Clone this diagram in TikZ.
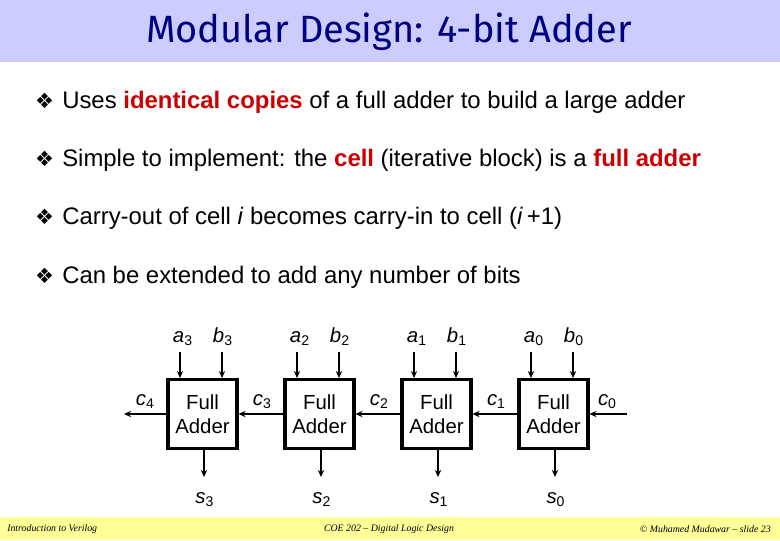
\documentclass[tikz,border=0pt]{standalone}
\usepackage{fontspec}
\setmainfont{Liberation Sans}
\newfontfamily\titlefont{Fira Sans}
\newfontfamily\symfont{DejaVu Sans}
\newfontfamily\footfont{Liberation Serif}
\usetikzlibrary{arrows.meta,positioning}
\definecolor{titleband}{RGB}{204,204,255}
\definecolor{titleblue}{RGB}{0,0,128}
\definecolor{footband}{RGB}{255,255,153}
\definecolor{hired}{RGB}{204,0,0}
\newcommand{\hi}[1]{\textcolor{hired}{\bfseries #1}}
\newcommand{\sig}[2]{\textit{#1}\raisebox{-0.35ex}{\fontsize{10}{10}\selectfont #2}}
\tikzset{
  fa/.style={draw,line width=2.3pt,minimum width=1.72cm,minimum height=1.72cm,
    inner sep=0pt,align=center,font=\fontsize{14.5}{17}\selectfont},
  wire/.style={line width=1.1pt},
  lbl/.style={font=\fontsize{14.5}{17}\selectfont,inner sep=0pt,anchor=base},
  bulletmark/.style={font=\symfont\fontsize{15}{15}\selectfont,inner sep=0pt},
  item/.style={font=\fontsize{17}{20}\selectfont,inner sep=0pt,anchor=base west},
  foot/.style={font=\footfont\itshape\fontsize{7}{8}\selectfont,inner sep=0pt}
}
\begin{document}
\begin{tikzpicture}[x=0.025cm,y=-0.025cm,>={Stealth[length=5pt,width=4.5pt]}]
\useasboundingbox (0,0) rectangle (780,540);
\fill[titleband] (0,0) rectangle (780,62);
\fill[footband] (0,517) rectangle (780,540);
\node[font=\titlefont\fontsize{27}{30}\selectfont,text=titleblue] (title) at (389,32) {Modular Design: 4-bit Adder};

\node[bulletmark] (m1) at (44.5,100.5) {❖};
\node[item] (t1) at (62,108) {Uses \hi{identical copies} of a full adder to build a large adder};
\node[bulletmark] (m2) at (44.5,159) {❖};
\node[item] (t2) at (62,166.5) {Simple to implement: the \hi{cell} (iterative block) is a \hi{full adder}};
\node[bulletmark] (m3) at (44.5,217) {❖};
\node[item] (t3) at (62,224.5) {Carry-out of cell \textit{i} becomes carry-in to cell (\textit{i}\,+1)};
\node[bulletmark] (m4) at (44.5,276) {❖};
\node[item] (t4) at (62,283.5) {Can be extended to add any number of bits};

\foreach \i/\x in {3/202.5,2/319.5,1/436.5,0/553.5}{
  \pgfmathtruncatemacro\j{\i+1}
  \node[fa] (fa\i) at (\x,414) {Full\\Adder};
  \coordinate (ain\i) at (\x-22.5,352);
  \coordinate (bin\i) at (\x+19.5,352);
  \coordinate (sout\i) at (\x+1.5,477);
  \node[lbl] (a\i) at (\x-20,342) {\sig{a}{\i}};
  \node[lbl] (b\i) at (\x+20,342) {\sig{b}{\i}};
  \node[lbl] (s\i) at (\x+2,503) {\sig{s}{\i}};
  \node[lbl] (c\j) at (\x-57.5,405) {\sig{c}{\j}};
  \draw[wire,->] (ain\i) -- (ain\i |- fa\i.north);
  \draw[wire,->] (bin\i) -- (bin\i |- fa\i.north);
  \draw[wire,->] (fa\i.south -| sout\i) -- (sout\i);
}
\node[lbl] (c0) at (607,405) {\sig{c}{0}};
\coordinate (cout) at (124,414);
\coordinate (cin) at (627,414);
\draw[wire,->] (fa3.west) -- (cout);
\draw[wire,->] (fa2.west) -- (fa3.east);
\draw[wire,->] (fa1.west) -- (fa2.east);
\draw[wire,->] (fa0.west) -- (fa1.east);
\draw[wire,->] (cin) -- (fa0.east);

\node[foot,anchor=west] (fl) at (7,529) {Introduction to Verilog};
\node[foot] (fc) at (389,529) {COE 202 – Digital Logic Design};
\node[foot,anchor=east] (fr) at (771,529) {© Muhamed Mudawar – slide 23};
\end{tikzpicture}
\end{document}
